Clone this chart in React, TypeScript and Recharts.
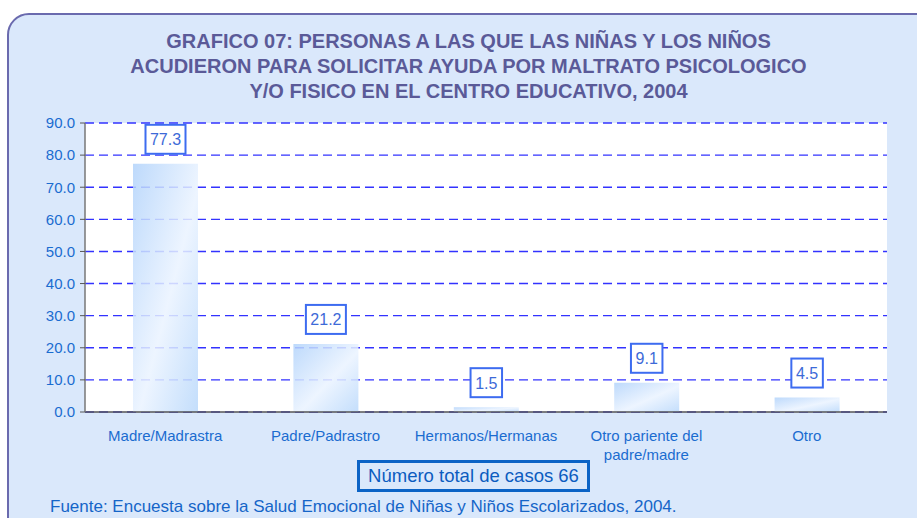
import React from "react";
import { BarChart, Bar, XAxis, YAxis, CartesianGrid, LabelList } from "recharts";

const categories = [
  "Madre/Madrastra",
  "Padre/Padrastro",
  "Hermanos/Hermanas",
  "Otro pariente del\npadre/madre",
  "Otro",
];
const porcentajes = [77.3, 21.2, 1.5, 9.1, 4.5];
const yTicks = [0, 10, 20, 30, 40, 50, 60, 70, 80, 90];
const edgeTicks = [0, 1, 2, 3, 4, 5];

const titleLines = [
  "GRAFICO 07: PERSONAS A LAS QUE LAS NIÑAS Y LOS NIÑOS",
  "ACUDIERON PARA SOLICITAR AYUDA POR MALTRATO PSICOLOGICO",
  "Y/O FISICO EN EL CENTRO EDUCATIVO, 2004",
];
const totalText = "Número total de casos 66";
const sourceText = "Fuente: Encuesta sobre la Salud Emocional de Niñas y Niños Escolarizados, 2004.";

const data = categories.map((name, i) => ({ name, value: porcentajes[i] }));

const FONT = "'Liberation Sans', Arial, sans-serif";
const BLUE_TEXT = "#1a6cd0";
const GRID_BLUE = "#3333ff";

function CategoryTick({ x, y, payload }: any) {
  const lines = String(payload.value).split("\n");
  return (
    <text x={x} y={y + 21} textAnchor="middle" fill={BLUE_TEXT} fontSize={15} fontFamily={FONT}>
      {lines.map((l, i) => (
        <tspan key={i} x={x} dy={i === 0 ? 0 : 19}>{l}</tspan>
      ))}
    </text>
  );
}

function ValueBox({ x, y, width, value }: any) {
  const text = Number(value).toFixed(1);
  const w = text.length * 8.5 + 6;
  const h = 29;
  const cx = x + width / 2;
  const top = y - 10 - h;
  return (
    <g>
      <rect x={cx - w / 2} y={top} width={w} height={h} fill="#fff" stroke="#3d6cf0" strokeWidth={2} />
      <text x={cx} y={top + h / 2 + 6} textAnchor="middle" fill="#3d6ad8" fontSize={16} fontFamily={FONT}>
        {text}
      </text>
    </g>
  );
}

export default function App() {
  return (
    <div style={{ position: "fixed", left: 0, top: 0, width: 917, height: 518, background: "#fff", overflow: "hidden", fontFamily: FONT }}>
      <div
        style={{
          position: "absolute", left: 7, top: 13, width: 940, height: 540,
          background: "#dae8fb", border: "2px solid #6a6aae", borderRadius: 22, boxSizing: "border-box",
        }}
      />
      <div style={{ position: "absolute", left: 0, top: 29, width: 937, textAlign: "center", color: "#5a5a98", fontWeight: "bold", fontSize: 20, lineHeight: "25px" }}>
        {titleLines.map((t, i) => (
          <div key={i}>{t}</div>
        ))}
      </div>
      <div style={{ position: "absolute", left: 0, top: 0 }}>
        <BarChart width={917} height={518} data={data} margin={{ top: 123, right: 30, bottom: 66, left: 0 }}>
          <defs>
            <linearGradient id="barFill" x1="0" y1="0" x2="1" y2="1">
              <stop offset="0%" stopColor="#b2d3fb" />
              <stop offset="55%" stopColor="#eaf3ff" />
              <stop offset="100%" stopColor="#b9d8fb" />
            </linearGradient>
          </defs>
          <CartesianGrid vertical={false} fill="#ffffff" stroke={GRID_BLUE} strokeWidth={1.4}
            strokeDasharray="9 5" horizontal={{ stroke: GRID_BLUE, strokeWidth: 1.4, strokeDasharray: "9 5" }} />
          <XAxis xAxisId="edges" type="number" domain={[0, 5]} ticks={edgeTicks} height={0}
            axisLine={false} tickLine={{ stroke: "#555" }} tickSize={5} tickFormatter={() => ""} />
          <XAxis dataKey="name" height={40} axisLine={{ stroke: "#555", strokeWidth: 1.5 }} tickLine={false}
            tick={<CategoryTick />} interval={0} />
          <YAxis domain={[0, 90]} ticks={yTicks} width={85} axisLine={{ stroke: "#777", strokeWidth: 1.5 }}
            tickLine={{ stroke: "#555" }} tickSize={5} tickMargin={5}
            tickFormatter={(v: number) => v.toFixed(1)}
            tick={{ fill: BLUE_TEXT, fontSize: 15, fontFamily: FONT }} />
          <Bar dataKey="value" barSize={65} fill="url(#barFill)" fillOpacity={0.85} isAnimationActive={false}>
            <LabelList dataKey="value" content={<ValueBox />} />
          </Bar>
        </BarChart>
      </div>
      <div style={{ position: "absolute", left: 357, top: 460, width: 233, height: 32, boxSizing: "border-box", border: "3px solid #0b63c6", color: "#0b5cc0", fontSize: 18.5, lineHeight: "26px", textAlign: "center", whiteSpace: "nowrap" }}>
        {totalText}
      </div>
      <div style={{ position: "absolute", left: 50, top: 497, color: "#1565c8", fontSize: 17, whiteSpace: "nowrap" }}>
        {sourceText}
      </div>
    </div>
  );
}
